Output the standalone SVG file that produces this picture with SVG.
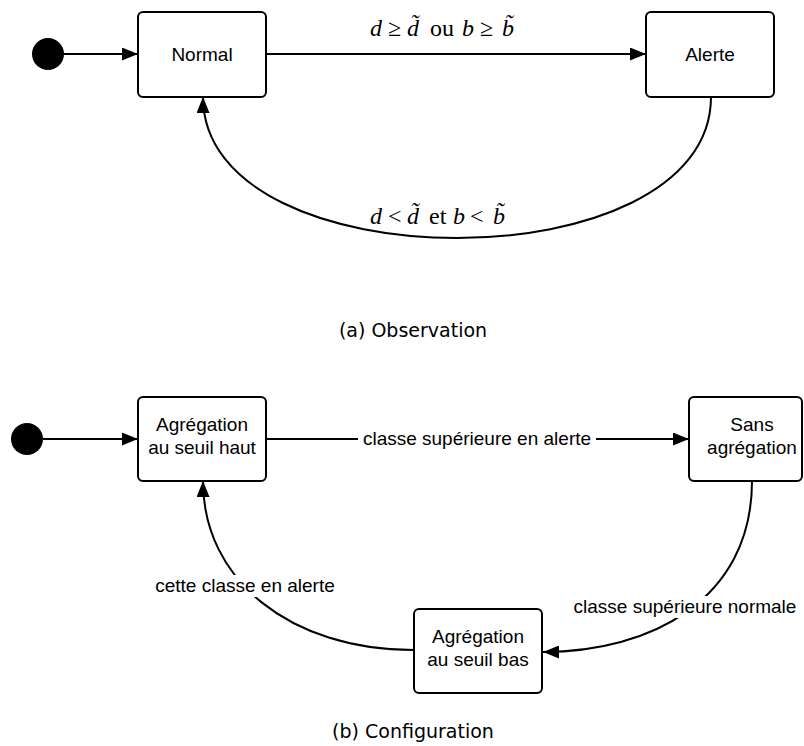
<svg xmlns="http://www.w3.org/2000/svg" width="804" height="746" viewBox="0 0 804 746">
<style>
.box{fill:#fff;stroke:#000;stroke-width:2}
.lbl{font-family:"Liberation Sans",Arial,sans-serif;font-size:19px;fill:#000;text-anchor:middle}
.math{font-family:"Liberation Serif","Times New Roman",serif;font-size:24px;fill:#000}
.it{font-style:italic}
.cap{font-family:"DejaVu Sans",sans-serif;font-size:19px;fill:#000;text-anchor:middle}
.edge{fill:none;stroke:#000;stroke-width:2}
.bg{fill:#fff}
</style>
<defs>
<marker id="arr" markerUnits="userSpaceOnUse" markerWidth="17" markerHeight="13" refX="16" refY="6.5" orient="auto">
<path d="M0,0 L16,6.5 L0,13 z" fill="#000"/>
</marker>
</defs>
<rect width="804" height="746" fill="#fff"/>
<g id="connectors">
<path class="edge" d="M64,54 L138,54" marker-end="url(#arr)"/>
<path class="edge" d="M266,54 L646,54" marker-end="url(#arr)"/>
<path class="edge" d="M711,97 C711,285 203,285 203,97" marker-end="url(#arr)"/>
<path class="edge" d="M43,439 L138,439" marker-end="url(#arr)"/>
<path class="edge" d="M266,439 L689,439" marker-end="url(#arr)"/>
<path class="edge" d="M752,481 C752,600 650,652 543,652" marker-end="url(#arr)"/>
<path class="edge" d="M414,650 C290,650 203,580 203,481" marker-end="url(#arr)"/>
<rect class="bg" x="358" y="428" width="238" height="22"/>
<text class="lbl" x="477" y="445">classe supérieure en alerte</text>
<rect class="bg" x="571" y="596" width="228" height="22"/>
<text class="lbl" x="685" y="613">classe supérieure normale</text>
<rect class="bg" x="152" y="575" width="186" height="22"/>
<text class="lbl" x="245" y="592">cette classe en alerte</text>
<text id="label-top" class="math" y="36"><tspan class="it" x="370">d</tspan><tspan x="388">≥</tspan><tspan class="it" x="407">d&#x303;</tspan><tspan x="430">ou</tspan><tspan class="it" x="462">b</tspan><tspan x="480">≥</tspan><tspan class="it" x="502">b&#x303;</tspan></text>
<text id="label-bottom" class="math" y="224"><tspan class="it" x="370">d</tspan><tspan x="388">&lt;</tspan><tspan class="it" x="407">d&#x303;</tspan><tspan x="429">et</tspan><tspan class="it" x="453">b</tspan><tspan x="470">&lt;</tspan><tspan class="it" x="493">b&#x303;</tspan></text>
</g>
<g id="init-a"><circle cx="48" cy="54" r="16" fill="#000"/></g>
<g id="normal"><rect class="box" x="138" y="12" width="128" height="85" rx="5"/><text class="lbl" x="202" y="61">Normal</text></g>
<g id="alerte"><rect class="box" x="646" y="12" width="128" height="85" rx="5"/><text class="lbl" x="710" y="61">Alerte</text></g>
<g id="init-b"><circle cx="27" cy="439" r="16" fill="#000"/></g>
<g id="haut"><rect class="box" x="138" y="397" width="128" height="84" rx="5"/><text class="lbl" x="202" y="431">Agrégation</text><text class="lbl" x="202" y="454">au seuil haut</text></g>
<g id="sans"><rect class="box" x="689" y="397" width="113" height="84" rx="5"/><text class="lbl" x="752" y="431">Sans</text><text class="lbl" x="752" y="454">agrégation</text></g>
<g id="bas"><rect class="box" x="414" y="609" width="128" height="84" rx="5"/><text class="lbl" x="478" y="643">Agrégation</text><text class="lbl" x="478" y="666">au seuil bas</text></g>
<g id="captions">
<text class="cap" x="413" y="337">(a) Observation</text>
<text class="cap" x="413" y="738">(b) Configuration</text>
</g>
</svg>
